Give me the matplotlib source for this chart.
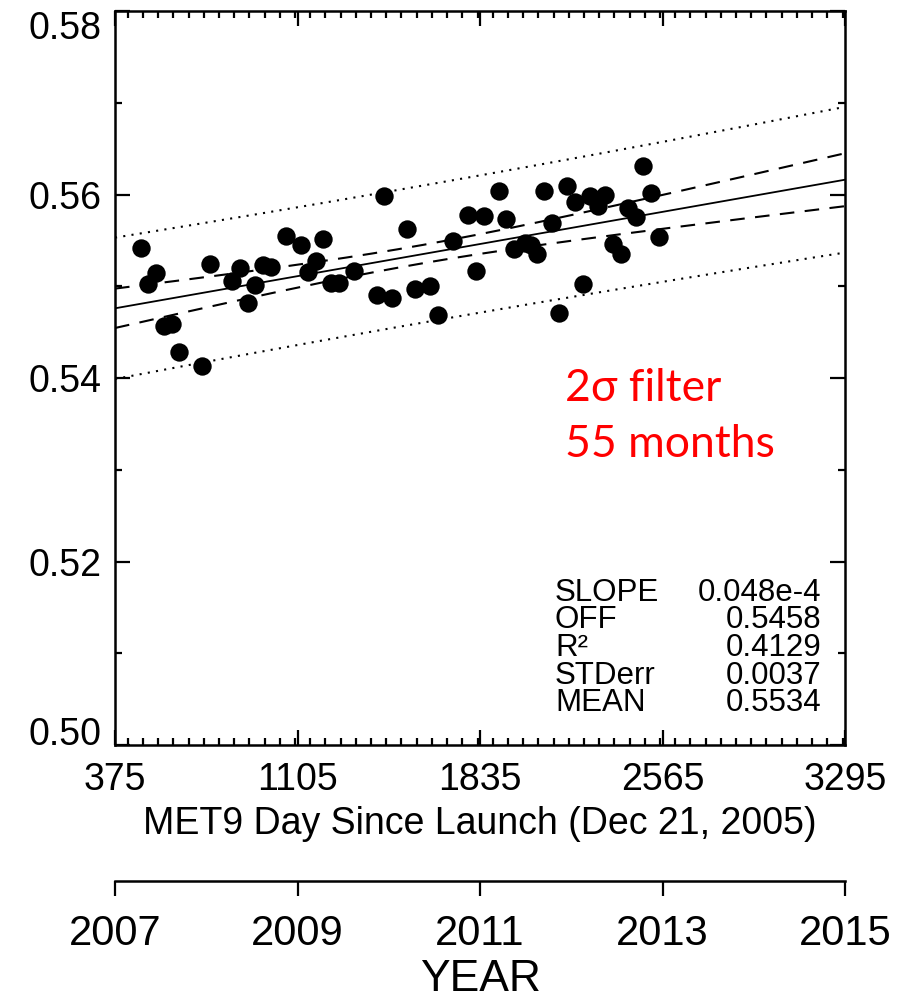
import numpy as np
import matplotlib
matplotlib.use('Agg')
import matplotlib.pyplot as plt
from matplotlib.ticker import MultipleLocator

plt.rcParams['font.family'] = ['Liberation Sans', 'DejaVu Sans']

# monthly MET9 values (day since launch, value)
days = [478, 508, 539, 571, 602, 631, 722, 754, 844, 875, 906, 935, 966, 999,
        1058, 1119, 1148, 1180, 1208, 1239, 1271, 1331, 1424, 1452, 1484, 1544,
        1575, 1635, 1666, 1728, 1788, 1819, 1851, 1911, 1939, 1971, 2015, 2038,
        2062, 2091, 2124, 2152, 2184, 2215, 2246, 2275, 2306, 2335, 2368, 2398,
        2428, 2459, 2488, 2519, 2552]
vals = [0.5542, 0.5502, 0.5515, 0.5457, 0.5459, 0.5428, 0.5413, 0.5524, 0.5506,
        0.5520, 0.5482, 0.5501, 0.5523, 0.5521, 0.5555, 0.5545, 0.5516, 0.5528,
        0.5551, 0.5504, 0.5504, 0.5517, 0.5490, 0.5598, 0.5487, 0.5562, 0.5497,
        0.5500, 0.5469, 0.5549, 0.5578, 0.5517, 0.5577, 0.5604, 0.5573, 0.5541,
        0.5547, 0.5545, 0.5535, 0.5604, 0.5569, 0.5471, 0.5609, 0.5592, 0.5503,
        0.5598, 0.5587, 0.5599, 0.5546, 0.5535, 0.5585, 0.5576, 0.5631, 0.5602,
        0.5554]

slope = 0.048e-4
off = 0.5458
r2 = 0.4129
stderr = 0.0037
mean = 0.5534

day_ticks = [375, 1105, 1835, 2565, 3295]
year_labels = ['2007', '2009', '2011', '2013', '2015']
y_ticks = [0.50, 0.52, 0.54, 0.56, 0.58]

fig = plt.figure(figsize=(9.15, 10.05), dpi=100)
ax = fig.add_axes([0.1257, 0.2587, 0.7978, 0.7303])

# fit line with 2-sigma confidence and prediction bands
x = np.array(days)
n = len(x)
xm = x.mean()
sxx = ((x - xm) ** 2).sum()
xx = np.linspace(375, 3295, 200)
fit = off + slope * xx
conf = 2 * stderr * np.sqrt(1.0 / n + (xx - xm) ** 2 / sxx)
pred = 2 * stderr * np.sqrt(1 + 1.0 / n + (xx - xm) ** 2 / sxx)

ax.plot(xx, fit, color='black', lw=1.3)
ax.plot(xx, fit + conf, color='black', lw=1.5, ls=(0, (7, 5)))
ax.plot(xx, fit - conf, color='black', lw=1.5, ls=(0, (7, 5)))
ax.plot(xx, fit + pred, color='black', lw=1.5, ls=(0, (1, 3)))
ax.plot(xx, fit - pred, color='black', lw=1.5, ls=(0, (1, 3)))
ax.scatter(days, vals, s=175, color='black', zorder=3, lw=0)

ax.set_xlim(375, 3295)
ax.set_ylim(0.50, 0.58)
ax.set_xticks(day_ticks)
ax.xaxis.set_minor_locator(MultipleLocator(730 / 12))
ax.set_yticks(y_ticks)
ax.set_yticklabels(['%.2f' % v for v in y_ticks])
ax.yaxis.set_minor_locator(MultipleLocator(0.01))
ax.tick_params(which='both', direction='in', top=True, right=True, labelsize=27, width=1.6)
ax.tick_params(which='major', length=11)
ax.tick_params(which='minor', length=5)
ax.tick_params(axis='x', pad=12)
ax.tick_params(axis='y', pad=10)
ylabs = ax.get_yticklabels()
ylabs[0].set_va('baseline')
ylabs[-1].set_va('top')
for sp in ax.spines.values():
    sp.set_linewidth(1.8)
ax.set_xlabel('MET9 Day Since Launch (Dec 21, 2005)', fontsize=27)
ax.xaxis.set_label_coords(0.5, -0.083)

# stats box
names = ['SLOPE', 'OFF', 'R²', 'STDerr', 'MEAN']
texts = ['0.048e-4', '%.4f' % off, '%.4f' % r2, '%.4f' % stderr, '%.4f' % mean]
for i in range(5):
    yy = 0.1967 - i * 0.0377
    ax.text(0.6027, yy, names[i], transform=ax.transAxes, fontsize=22.5, va='baseline', ha='left')
    ax.text(0.968, yy, texts[i], transform=ax.transAxes, fontsize=22.5, va='baseline', ha='right')

ax.text(0.6164, 0.4687, '2σ filter', transform=ax.transAxes, fontsize=32, color='red',
        family=['Lato', 'DejaVu Sans'], va='baseline')
ax.text(0.6164, 0.3924, '55 months', transform=ax.transAxes, fontsize=32, color='red',
        family=['Lato', 'DejaVu Sans'], va='baseline')

# year axis below
ax2 = fig.add_axes([0.1257, 1 - 881 / 1005, 0.7978, 0.05])
ax2.set_xlim(375, 3295)
ax2.set_ylim(0, 1)
for s in ['left', 'right', 'top']:
    ax2.spines[s].set_visible(False)
ax2.spines['bottom'].set_linewidth(1.8)
ax2.set_yticks([])
ax2.set_xticks(day_ticks)
ax2.set_xticklabels(year_labels)
ax2.tick_params(axis='x', direction='out', length=11, width=1.6, labelsize=30, pad=13)
ax2.set_xlabel('YEAR', fontsize=32)
ax2.xaxis.set_label_coords(0.5, -1.544)
ax2.patch.set_visible(False)

fig.savefig('out.png', dpi=100)
